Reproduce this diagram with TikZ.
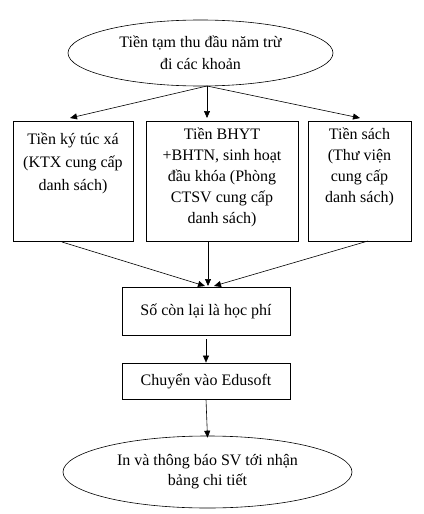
\documentclass[tikz,border=0pt]{standalone}
\usepackage{fontspec}
\setmainfont{Liberation Serif}
\usetikzlibrary{shapes.geometric,arrows.meta}
\begin{document}
\begin{tikzpicture}[x=1pt,y=-1pt,
  every node/.style={font=\fontsize{16}{22}\selectfont},
  ell/.style={draw,ellipse,inner sep=0pt,align=center,line width=0.6pt},
  boxs/.style={draw,rectangle,inner sep=0pt,line width=0.8pt},
  txt/.style={align=center,inner sep=0pt},
  arr/.style={-{Triangle[length=7pt,width=6pt]},line width=0.6pt},
  ln/.style={line width=0.6pt}]
\useasboundingbox (0,0) rectangle (423,514);
\node[ell,minimum width=265pt,minimum height=66pt] (top) at (200.5,53) {Tiền tạm thu đầu năm trừ\\đi các khoản};
\node[boxs,minimum width=120pt,minimum height=120pt] (b1) at (73,181) {};
\node[boxs,minimum width=152pt,minimum height=120pt] (b2) at (222,181) {};
\node[boxs,minimum width=103pt,minimum height=120pt] (b3) at (359.5,181) {};
\node[txt,font=\fontsize{16}{23}\selectfont,anchor=north] (t1) at (73,133) {Tiền ký túc xá\\(KTX cung cấp\\danh sách)};
\node[txt,font=\fontsize{16}{21}\selectfont,anchor=north] (t2) at (222,128) {Tiền BHYT\\+BHTN, sinh hoạt\\đầu khóa (Phòng\\CTSV cung cấp\\danh sách)};
\node[txt,font=\fontsize{16}{21}\selectfont,anchor=north] (t3) at (359.5,128) {Tiền sách\\(Thư viện\\cung cấp\\danh sách)};
\node[boxs,minimum width=168pt,minimum height=48pt] (r) at (206,311) {Số còn lại là học phí};
\node[boxs,minimum width=168pt,minimum height=36pt] (e) at (206,381) {Chuyển vào Edusoft};
\node[ell,minimum width=289pt,minimum height=72pt,font=\fontsize{16}{20}\selectfont] (fin) at (207.5,472) {In và thông báo SV tới nhận\\bảng chi tiết};
\coordinate (ts) at (207,86);
\coordinate (a1) at (70,118);
\coordinate (a2) at (207,118);
\coordinate (a3) at (360,118);
\draw[arr] (ts) -- (a1);
\draw[arr] (ts) -- (a2);
\draw[arr] (ts) -- (a3);
\coordinate (s1) at (62,242);
\coordinate (s2) at (208,241);
\coordinate (s3) at (368,241);
\coordinate (m1) at (205,286);
\coordinate (m2) at (208,286);
\coordinate (m3) at (214,286);
\draw[arr] (s1) -- (m1);
\draw[arr] (s2) -- (m2);
\draw[arr] (s3) -- (m3);
\coordinate (rb) at (206,339);
\draw[arr] (rb) -- (e.north);
\draw[arr] (e.south) -- ([yshift=-2pt]fin.north);
\end{tikzpicture}
\end{document}
